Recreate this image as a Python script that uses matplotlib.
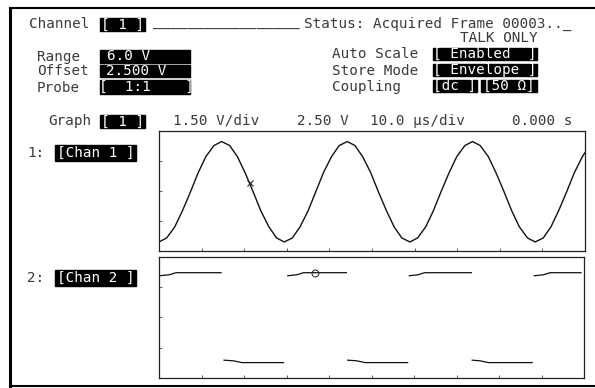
import numpy as np
import matplotlib.pyplot as plt
from matplotlib.patches import Rectangle

# Channel 1: sine captured on the scope (time in us, volts)
ch1_time = [0.0, 1.8, 3.7, 5.5, 7.4, 9.2, 11.0, 12.9, 14.7, 16.6, 18.4, 20.2, 22.1, 23.9,
            25.8, 27.6, 29.4, 31.3, 33.1, 35.0, 36.8, 38.6, 40.5, 42.3, 44.2, 46.0, 47.8,
            49.7, 51.5, 53.4, 55.2, 57.0, 58.9, 60.7, 62.6, 64.4, 66.2, 68.1, 69.9, 71.8,
            73.6, 75.4, 77.3, 79.1, 81.0, 82.8, 84.6, 86.5, 88.3, 90.2, 92.0, 93.8, 95.7,
            97.5, 99.4, 100.0]
ch1_volts = [-0.05, 0.15, 0.7, 1.5, 2.45, 3.4, 4.2, 4.75, 4.95, 4.75, 4.2, 3.4, 2.45, 1.5, 0.7, 0.15,
             -0.05, 0.15, 0.7, 1.5, 2.45, 3.4, 4.2, 4.75, 4.95, 4.75, 4.2, 3.4, 2.45, 1.5, 0.7, 0.15,
             -0.05, 0.15, 0.7, 1.5, 2.45, 3.4, 4.2, 4.75, 4.95, 4.75, 4.2, 3.4, 2.45, 1.5, 0.7, 0.15,
             -0.05, 0.15, 0.7, 1.5, 2.45, 3.4, 4.2, 4.4]

# Channel 2: square wave, only the flat parts show up in envelope mode
nan = float("nan")
ch2_time = [0.2, 2.5, 4.0, 14.6, nan, 15.3, 17.5, 19.5, 29.3, nan,
            30.3, 32.5, 34.0, 44.1, nan, 44.4, 46.5, 48.5, 58.5, nan,
            58.9, 61.0, 62.5, 73.5, nan, 73.7, 75.5, 77.5, 87.8, nan,
            88.3, 90.5, 92.0, 99.3]
ch2_volts = [4.55, 4.6, 4.7, 4.7, nan, 0.38, 0.35, 0.26, 0.26, nan,
             4.55, 4.6, 4.7, 4.7, nan, 0.38, 0.35, 0.26, 0.26, nan,
             4.55, 4.6, 4.7, 4.7, nan, 0.38, 0.35, 0.26, 0.26, nan,
             4.55, 4.6, 4.7, 4.7]

# cursor markers
ch1_marker = (21.4, 2.9)
ch2_marker = (36.8, 4.7)

FONT = "DejaVu Sans Mono"
FS = 10.3
INK = "#3a3a3a"

fig = plt.figure(figsize=(5.95, 3.88), dpi=100)
bg = fig.add_axes([0, 0, 1, 1])
bg.set_xlim(0, 595)
bg.set_ylim(388, 0)
bg.axis("off")

# outer frame (cut on right)
bg.plot([10, 10], [8, 386], color="black", lw=2.2)
bg.plot([10, 595], [8, 8], color="black", lw=1.5)
bg.plot([10, 595], [386, 386], color="black", lw=1.5)


def label(x, y, s):
    bg.text(x, y, s, fontsize=FS, family=FONT, color=INK, va="center", ha="left")


def inv_box(x0, x1, y0, y1, s, tx=None):
    bg.add_patch(Rectangle((x0, y0), x1 - x0, y1 - y0, color="black"))
    if tx is None:
        bg.text((x0 + x1) / 2, (y0 + y1) / 2, s, fontsize=FS, family=FONT,
                color="white", va="center", ha="center")
    else:
        bg.text(tx, (y0 + y1) / 2, s, fontsize=FS, family=FONT,
                color="white", va="center", ha="left")


label(29, 24, "Channel")
inv_box(100, 145, 18, 31, "[ 1 ]")
label(153, 23, "_" * 17)
label(304, 23.5, "Status: Acquired Frame 00003.._")
label(460, 38, "TALK ONLY")

label(37, 57, "Range")
label(37, 71, "Offset")
label(37, 88, "Probe")
inv_box(100, 190, 50, 63, "6.0 V", tx=107)
inv_box(100, 190, 65, 77, "2.500 V", tx=106)
inv_box(100, 190, 80, 94, "[  1:1    ]", tx=99)

label(332, 54, "Auto Scale")
label(332, 71, "Store Mode")
label(332, 87, "Coupling")
inv_box(433, 537, 48, 60, "[ Enabled  ]")
inv_box(433, 537, 64, 76, "[ Envelope ]")
inv_box(433, 477, 80, 92, "[dc ]")
inv_box(481, 537, 80, 92, "[50 Ω]")

label(48, 121, "Graph")
inv_box(100, 145, 115, 128, "[ 1 ]")
label(173, 121, "1.50 V/div")
label(297, 121, "2.50 V")
label(370, 121, "10.0 µs/div")
label(512, 121, "0.000 s")

label(27, 153, "1:")
inv_box(55, 136, 145, 161, "[Chan 1 ]")
label(27, 278, "2:")
inv_box(55, 136, 270, 286, "[Chan 2 ]")

# waveform panels
ax1 = fig.add_axes([159 / 595, 1 - 251 / 388, 426 / 595, 120.5 / 388])
ax2 = fig.add_axes([159 / 595, 1 - 378 / 388, 425 / 595, 121.5 / 388])

ax1.plot(ch1_time, ch1_volts, color="#111111", lw=1.0)
ax1.plot(*ch1_marker, marker="x", ms=4, mew=0.8, color="#222222")
ax2.plot(ch2_time, ch2_volts, color="#111111", lw=0.9)
ax2.plot(*ch2_marker, marker="o", ms=5, mfc="none", mew=0.7, color="#222222")

for ax in (ax1, ax2):
    ax.set_xlim(0, 100)
    ax.set_ylim(-0.5, 5.5)
    ax.set_xticks(np.arange(10, 100, 10))
    ax.set_yticks([1.0, 2.5, 4.0])
    ax.tick_params(direction="in", length=2, width=0.6, labelbottom=False,
                   labelleft=False, color="#444444")
    for sp in ax.spines.values():
        sp.set_linewidth(0.9)
        sp.set_color("#222222")

fig.savefig("out.png", dpi=100)
